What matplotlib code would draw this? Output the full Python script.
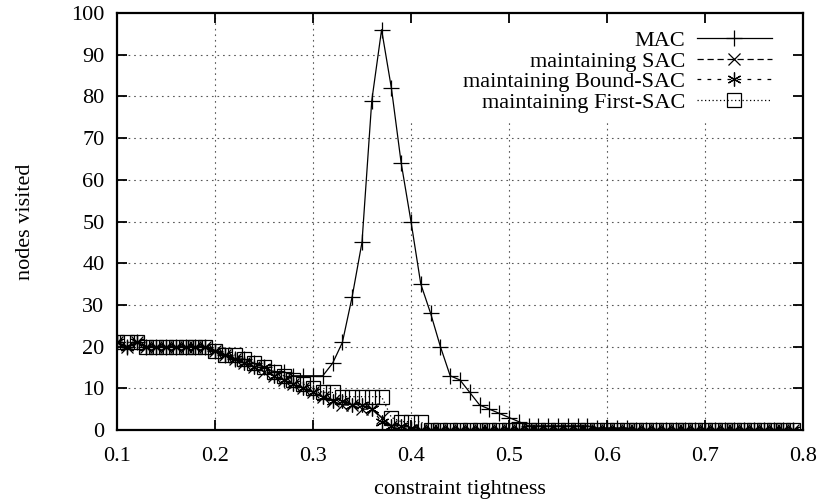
import matplotlib
matplotlib.use("Agg")
import matplotlib.pyplot as plt

plt.rcParams["font.family"] = ["Liberation Serif", "DejaVu Serif"]

# tightness levels (x axis)
tightness = [0.10, 0.11, 0.12, 0.13, 0.14, 0.15, 0.16, 0.17, 0.18, 0.19,
             0.20, 0.21, 0.22, 0.23, 0.24, 0.25, 0.26, 0.27, 0.28, 0.29,
             0.30, 0.31, 0.32, 0.33, 0.34, 0.35, 0.36, 0.37, 0.38, 0.39,
             0.40, 0.41, 0.42, 0.43, 0.44, 0.45, 0.46, 0.47, 0.48, 0.49,
             0.50, 0.51, 0.52, 0.53, 0.54, 0.55, 0.56, 0.57, 0.58, 0.59,
             0.60, 0.61, 0.62, 0.63, 0.64, 0.65, 0.66, 0.67, 0.68, 0.69,
             0.70, 0.71, 0.72, 0.73, 0.74, 0.75, 0.76, 0.77, 0.78, 0.79]

# nodes visited per algorithm
mac = [21, 20, 21, 20, 20, 20, 20, 20, 20, 20,
       19, 18, 17, 17, 16, 15, 14, 14, 13, 13,
       13, 13, 16, 21, 32, 45, 79, 96, 82, 64,
       50, 35, 28, 20, 13, 12, 9, 6, 5, 4,
       3, 2, 1, 1, 1, 1, 1, 1, 1, 0.5,
       0.5, 0.5, 0.5, 0, 0, 0, 0, 0, 0, 0,
       0, 0, 0, 0, 0, 0, 0, 0, 0, 0]

sac = [21, 20, 21, 20, 20, 20, 20, 20, 20, 20,
       19, 18, 17, 16, 15, 14, 13, 12, 11, 10,
       9, 8, 7, 6, 6, 5, 5, 3, 1, 0,
       0, 0, 0, 0, 0, 0, 0, 0, 0, 0,
       0, 0, 0, 0, 0, 0, 0, 0, 0, 0,
       0, 0, 0, 0, 0, 0, 0, 0, 0, 0,
       0, 0, 0, 0, 0, 0, 0, 0, 0, 0]

bound_sac = [21, 20, 21, 20, 20, 20, 20, 20, 20, 20,
             19, 18, 17, 16, 15, 15, 13, 12, 11, 10,
             9, 8, 7, 7, 6, 6, 5, 2, 1, 1,
             0.5, 0, 0, 0, 0, 0, 0, 0, 0, 0,
             0, 0, 0, 0, 0, 0, 0, 0, 0, 0,
             0, 0, 0, 0, 0, 0, 0, 0, 0, 0,
             0, 0, 0, 0, 0, 0, 0, 0, 0, 0]

first_sac = [21, 21, 21, 20, 20, 20, 20, 20, 20, 20,
             19, 18, 18, 17, 16, 15, 14, 13, 12, 11,
             10, 9, 9, 8, 8, 8, 8, 8, 3, 2,
             2, 2, 0, 0, 0, 0, 0, 0, 0, 0,
             0, 0, 0, 0, 0, 0, 0, 0, 0, 0,
             0, 0, 0, 0, 0, 0, 0, 0, 0, 0,
             0, 0, 0, 0, 0, 0, 0, 0, 0, 0]

labels = ["MAC", "maintaining SAC", "maintaining Bound-SAC", "maintaining First-SAC"]
xticks = [0.1, 0.2, 0.3, 0.4, 0.5, 0.6, 0.7, 0.8]
yticks = [0, 10, 20, 30, 40, 50, 60, 70, 80, 90, 100]

fig = plt.figure(figsize=(8.22, 5.04), dpi=100)
ax = fig.add_axes([0.1423, 0.1468, 0.8346, 0.8274])

# grid kept out of the key area, like gnuplot does
key_left, key_bottom = 0.368, 74
grid_style = dict(color="0.35", linestyle=(0, (1.5, 3.5)), linewidth=0.8, zorder=0.5)
for y in yticks[1:-1]:
    right = key_left if y > key_bottom else 0.8
    ax.plot([0.1, right], [y, y], **grid_style)
for x in xticks[1:-1]:
    top = key_bottom if x > key_left else 100
    ax.plot([x, x], [0, top], **grid_style)

ax.plot(tightness, mac, color="black", lw=0.9, marker="+", ms=12, mew=0.9, label=labels[0])
ax.plot(tightness, sac, color="black", lw=0.9, linestyle=(0, (5, 3)),
        marker="x", ms=8, mew=0.9, label=labels[1])
ax.plot(tightness, bound_sac, color="black", lw=0.9, linestyle=(0, (3, 5)),
        marker=(6, 2, 0), ms=10, mew=0.9, label=labels[2])
ax.plot(tightness, first_sac, color="black", lw=0.9, linestyle=(0, (1, 2)),
        marker="s", ms=10, mew=0.9, mfc="none", label=labels[3])

ax.set_xlim(0.1, 0.8)
ax.set_ylim(0, 100)
ax.set_xticks(xticks)
ax.set_yticks(yticks)
ax.set_xticklabels(["0.1", "0.2", "0.3", "0.4", "0.5", "0.6", "0.7", "0.8"])
ax.tick_params(direction="in", length=7, width=1.3, top=True, right=True,
               labelsize=16)
ax.tick_params(axis="x", pad=12)
ax.tick_params(axis="y", pad=9)
for s in ax.spines.values():
    s.set_linewidth(1.6)

ax.set_xlabel("constraint tightness", fontsize=16, labelpad=10)
ax.set_ylabel("nodes visited", fontsize=16, labelpad=26)

ax.legend(loc="upper right", bbox_to_anchor=(0.955, 0.958), frameon=False,
          markerfirst=False, fontsize=16, handlelength=3.4, handletextpad=0.5,
          labelspacing=0.0, borderaxespad=0, borderpad=0)

fig.savefig("out.png", dpi=100)
